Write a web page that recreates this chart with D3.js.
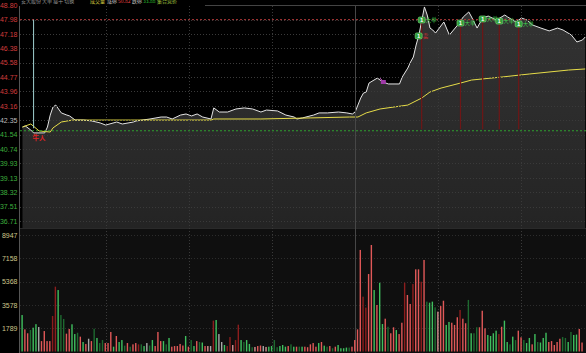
<!DOCTYPE html>
<html><head><meta charset="utf-8">
<script src="https://cdn.jsdelivr.net/npm/d3@7"></script>
<style>html,body{margin:0;padding:0;background:#000;overflow:hidden}</style>
</head><body><svg id="c" width="586" height="353"></svg>
<script>
// ---------- data ----------
const priceTicks = ["48.80","47.98","47.18","46.38","45.58","44.77","43.96","43.16","42.35","41.54","40.74","39.93","39.13","38.32","37.51","36.71"];
const prevClose = 42.35;
const volumeTicks = [1789, 3578, 5368, 7158, 8947];
const highLine = 47.98;
const lowLine = 41.76;

const priceMinutes = [0,1,3,4,8,9,10,11,12,14,16,17,19,22,25,28,30,34,36,40,41,46,50,52,54,57,59,61,63,65,68,69,71,74,77,80,83,86,88,92,95,98,99,101,105,107,110,114,117,119,120,121,122,123,124,125,128,130,132,136,137,139,140,141,142,143,145,146,147,148,149,152,154,157,159,161,162,164,166,168,171,174,175,178,180,182,184,187,190,193,195,198,200,202,203];
const priceValues = [41.97,42.03,41.80,41.64,41.64,41.97,42.64,43.09,43.20,42.76,42.64,42.59,42.36,42.36,42.31,42.20,42.08,42.25,42.14,42.25,42.31,42.42,42.53,42.53,42.42,42.64,42.70,42.59,42.70,42.53,42.42,43.04,42.81,42.81,42.98,43.04,42.98,42.81,42.92,42.87,42.64,42.53,42.42,42.48,42.64,42.76,42.76,42.81,42.76,42.70,42.81,43.20,43.59,43.87,43.93,44.43,44.71,44.49,44.38,44.38,44.77,45.27,45.61,45.89,46.56,47.12,48.69,48.24,47.51,47.40,47.23,47.85,47.12,47.68,48.13,48.41,48.13,47.51,48.07,48.18,47.96,48.24,48.13,47.85,48.07,47.96,47.68,47.51,47.35,47.51,47.40,47.12,46.73,46.84,47.01];

const avgMinutes = [0,3,6,10,11,14,18,39,68,69,86,104,118,121,124,129,139,144,147,151,158,162,173,183,197,203];
const avgValues = [41.97,42.14,41.75,41.69,41.92,42.25,42.36,42.36,42.36,42.42,42.42,42.48,42.53,42.53,42.76,42.98,43.20,43.59,43.93,44.15,44.43,44.60,44.77,44.94,45.16,45.22];

const volumes = [2800,1700,1400,1650,1830,2100,1880,800,1570,800, 800,2730,4980,4720,2800,2500,1370,1730,2090,1340, 1440,1140,730,580,980,800,1750,1040,650,880, 650,650,1500,370,1190,730,880,450,650,370, 550,650,550,550,420,650,460,880,420,1500, 800,800,550,1040,370,420,420,580,460,1190, 370,880,420,800,730,690,420,420,420,2370, 2420,1340,730,500,420,1110,500,880,2060,880, 730,880,580,330,350,420,460,420,350,370, 420,880,330,420,500,370,420,550,370,370, 370,370,370,330,550,650,370,650,730,450, 370,420,250,370,500,250,250,300,300,370, 880,1700,7800,4210,3370,5950,8180,4720,3570,5280, 2110,2520,1900,1400,1860,1650,1340,2210,5280,4340, 3650,5180,6310,6310,5360,7030,3830,3750,3830,3390, 3060,3490,3900,2040,2270,2210,2040,2630,3190,2520, 2170,3960,1400,1400,1860,1860,3130,1780,1270,1190, 1400,1600,1340,1900,2370,730,550,1140,880,1600, 1090,880,650,1040,550,1340,730,690,1040,1440, 730,800,500,730,980,1110,1040,730,1500,1270, 1300,1730,690];
// R up, r up (dim), G down, g down (dim), N neutral, P light-up
const volumeDir = ("GRRgGGNRRR" + "RrrGggRRGG" + "gRGRNRgGgg" + "RRRGRGGgRg" + "RRrgGNgGRR" +
  "RGgGRRRRRG" + "RgGRgGRPNr" + "GNNGrrPrrG" + "gGGgPRRNPG" + "GggGGGRgGR" +
  "gGRRRRRGRG" + "gRgRGGGGgR" + "RRRrrRRGRG" + "GRgRRGRRrR" + "RrRRrRgGGg" +
  "PRRGGRRRrR" + "RgGggRRRGG" + "GGrRGGgGgR" + "RgGGRGgGGG" + "RRRRRggGgG" + "GRR").split("");

const markerMinutes = [144, 158, 166, 172, 179];
const badgeMinutes = [144, 144, 158, 166, 172, 179];
const badgePrices = [47.96, 47.07, 47.79, 48.02, 47.90, 47.74];
const badgeNotes = ["大单", "卖", "大单", "大单", "大单", "大单"];
const cursorMinute = 4;
const buyMarkMinute = 4, buyMarkPrice = 41.41;
const flagMinute = 130, flagPrice = 44.49;

const headerParts = [
  {t:"安大股份 大单 接千 切换", c:"#9a9a9a", x:21},
  {t:"成交量", c:"#d8d040", x:90},
  {t:"涨停", c:"#c8c8c8", x:107},
  {t:"50.82", c:"#e04040", x:118},
  {t:"跌停", c:"#c8c8c8", x:132},
  {t:"33.88", c:"#30c030", x:143},
  {t:"集合竞价", c:"#a8d040", x:157}
];

// ---------- layout ----------
const W = 586, H = 353;
const left = 20, priceBottom = 228, volTop = 229;
const svg = d3.select("#c");
const x = d3.scaleLinear().domain([0, 240]).range([22.5, 22.5 + 240 * 2.772]);
const yP = d3.scaleLinear().domain([36.71, 48.80]).range([221, 5]);
const yV = d3.scaleLinear().domain([0, 8947]).range([351.5, 235]);

svg.append("rect").attr("width", W).attr("height", H).attr("fill", "#000");
svg.append("rect").attr("x", left).attr("y", volTop).attr("width", W - left).attr("height", H - volTop).attr("fill", "#0f0f0f");

const defs = svg.append("defs");
defs.append("clipPath").attr("id", "pc")
  .append("rect").attr("x", left).attr("y", 0).attr("width", W - left).attr("height", priceBottom);
const grad = defs.append("linearGradient").attr("id", "fg").attr("x1", 0).attr("x2", 0).attr("y1", 0).attr("y2", 1);
grad.append("stop").attr("offset", "0%").attr("stop-color", "#333");
grad.append("stop").attr("offset", "100%").attr("stop-color", "#242424");

const pts = priceMinutes.map((m, i) => [m, priceValues[i]]);
const gP = svg.append("g").attr("clip-path", "url(#pc)");
gP.append("path").datum(pts)
  .attr("d", d3.area().x(d => x(d[0])).y0(priceBottom).y1(d => yP(d[1])))
  .attr("fill", "url(#fg)");

// grid
const gridCol = "#3a3a3a";
priceTicks.forEach(t => {
  const v = +t;
  if (v === 48.80) return;
  svg.append("line").attr("x1", left).attr("x2", W).attr("y1", Math.round(yP(v)) + 0.5).attr("y2", Math.round(yP(v)) + 0.5)
    .attr("stroke", gridCol).attr("stroke-dasharray", "1,2");
});
svg.append("line").attr("x1", 205).attr("x2", W).attr("y1", 5.5).attr("y2", 5.5).attr("stroke", "#444");
volumeTicks.forEach(v => {
  svg.append("line").attr("x1", left).attr("x2", W).attr("y1", Math.round(yV(v)) + 0.5).attr("y2", Math.round(yV(v)) + 0.5)
    .attr("stroke", "#2c2c2c").attr("stroke-dasharray", "1,2");
});
svg.append("line").attr("x1", left).attr("x2", W).attr("y1", priceBottom + 0.5).attr("y2", priceBottom + 0.5).attr("stroke", "#2a2a2a");
[30, 60, 90, 150, 180].forEach(m => {
  svg.append("line").attr("x1", Math.round(x(m)) + 0.5).attr("x2", Math.round(x(m)) + 0.5).attr("y1", 6).attr("y2", H)
    .attr("stroke", gridCol).attr("stroke-dasharray", "1,2");
});
svg.append("line").attr("x1", Math.round(x(120)) + 0.5).attr("x2", Math.round(x(120)) + 0.5).attr("y1", 6).attr("y2", H).attr("stroke", "#474747");
svg.append("line").attr("x1", left - 0.5).attr("x2", left - 0.5).attr("y1", 6).attr("y2", H).attr("stroke", "#555");

// limit lines
svg.append("line").attr("x1", left).attr("x2", W).attr("y1", yP(highLine)).attr("y2", yP(highLine))
  .attr("stroke", "#b03a3a").attr("stroke-dasharray", "2,2");
svg.append("line").attr("x1", left).attr("x2", W).attr("y1", yP(lowLine)).attr("y2", yP(lowLine))
  .attr("stroke", "#2fa02f").attr("stroke-dasharray", "2,2");

// event lines
markerMinutes.forEach(m => {
  svg.append("line").attr("x1", x(m)).attr("x2", x(m)).attr("y1", yP(47.9)).attr("y2", yP(41.85))
    .attr("stroke", "#6e1616").attr("stroke-width", 1.2);
});
// cursor line
svg.append("line").attr("x1", x(cursorMinute)).attr("x2", x(cursorMinute)).attr("y1", yP(highLine)).attr("y2", yP(41.9))
  .attr("stroke", "#9fd0d0").attr("stroke-width", 1);

// lines
gP.append("path").datum(pts)
  .attr("d", d3.line().x(d => x(d[0])).y(d => yP(d[1])))
  .attr("fill", "none").attr("stroke", "#e4e4e4").attr("stroke-width", 1);
gP.append("path").datum(avgMinutes.map((m, i) => [m, avgValues[i]]))
  .attr("d", d3.line().x(d => x(d[0])).y(d => yP(d[1])))
  .attr("fill", "none").attr("stroke", "#e6dc48").attr("stroke-width", 1);

// volume bars
const volCol = {R: "#e05858", r: "#8c1d1d", G: "#3fbf5e", g: "#1e6a30", N: "#a8a8a8", P: "#d89292"};
svg.append("g").selectAll("rect").data(volumes).join("rect")
  .attr("x", (d, i) => x(i) - 1.1).attr("width", 1.4)
  .attr("y", d => yV(d)).attr("height", d => yV(0) - yV(d))
  .attr("fill", (d, i) => volCol[volumeDir[i]]);

// badges
badgeMinutes.forEach((m, i) => {
  const cx = x(m) - (i === 1 ? 3 : 0), cy = yP(badgePrices[i]);
  svg.append("rect").attr("x", cx - 3.5).attr("y", cy - 3).attr("width", 7).attr("height", 6).attr("rx", 1.5)
    .attr("fill", "#2f9d3a").attr("stroke", "#7fe07f").attr("stroke-width", 0.6);
  svg.append("text").attr("x", cx).attr("y", cy + 2.3).attr("text-anchor", "middle")
    .attr("font-family", "Liberation Sans, Arial").attr("font-size", 6).attr("font-weight", "bold").attr("fill", "#fff").text("1");
  svg.append("text").attr("x", cx + 4).attr("y", cy + 2.3)
    .attr("font-family", "Noto Sans CJK SC").attr("font-size", 5.5).attr("fill", i === 1 ? "#d03030" : "#3fcf4f").text(badgeNotes[i]);
});
// buy mark
svg.append("text").attr("x", x(buyMarkMinute) - 1).attr("y", yP(buyMarkPrice) + 3)
  .attr("font-family", "Noto Sans CJK SC").attr("font-size", 6.5).attr("font-weight", "bold").attr("fill", "#e02424").text("牛人");
// flag mark
svg.append("rect").attr("x", x(flagMinute) - 2).attr("y", yP(flagPrice) - 2).attr("width", 5).attr("height", 4)
  .attr("fill", "#a03aa8");
svg.append("line").attr("x1", x(flagMinute) - 3).attr("x2", x(flagMinute) - 1).attr("y1", yP(flagPrice) - 4).attr("y2", yP(flagPrice) - 2)
  .attr("stroke", "#c050c0");

// axes
const fontF = "Liberation Sans, Arial, sans-serif";
const aP = d3.axisLeft(yP).tickValues(priceTicks.map(Number)).tickFormat(d => d.toFixed(2)).tickSize(0).tickPadding(0);
const gAP = svg.append("g").attr("transform", "translate(17.5,0)").call(aP);
gAP.select(".domain").remove();
gAP.selectAll("text").attr("font-family", fontF).attr("font-size", 7)
  .attr("fill", d => d > prevClose + 1e-6 ? "#d23c3c" : (Math.abs(d - prevClose) < 1e-6 ? "#bbbbbb" : "#3dae3d"));
const aV = d3.axisLeft(yV).tickValues(volumeTicks).tickFormat(d3.format("d")).tickSize(0).tickPadding(0);
const gAV = svg.append("g").attr("transform", "translate(17.5,0)").call(aV);
gAV.select(".domain").remove();
gAV.selectAll("text").attr("font-family", fontF).attr("font-size", 7).attr("fill", "#cdc58a");

// header (cut off at the top edge, as in the reference)
svg.append("rect").attr("x", 20).attr("y", 0).attr("width", 185).attr("height", 4).attr("fill", "#000");
headerParts.forEach(p => {
  svg.append("text").attr("x", p.x).attr("y", 3).attr("font-family", "Noto Sans CJK SC")
    .attr("font-size", 5).attr("fill", p.c).text(p.t);
});
</script>
</body></html>
